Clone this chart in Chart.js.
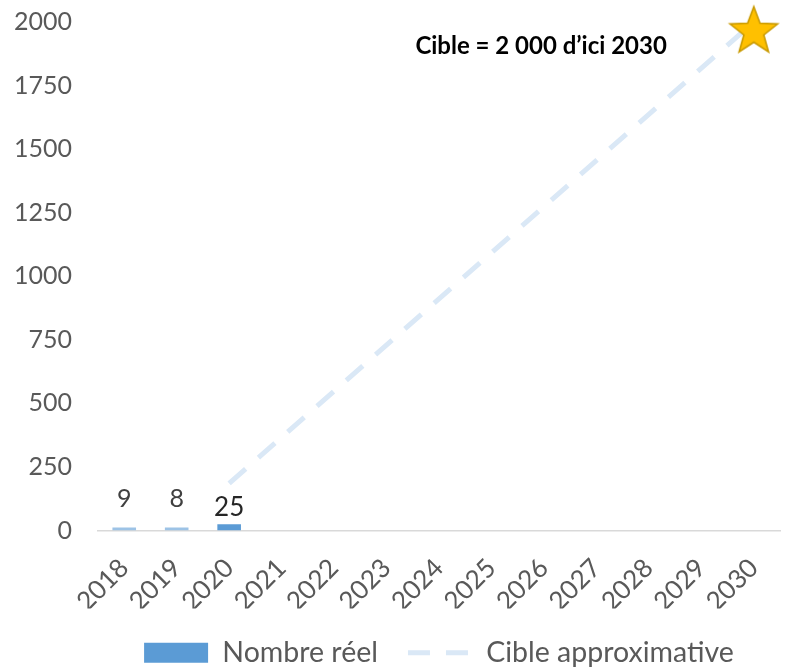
<!DOCTYPE html>
<html><head><meta charset="utf-8">
<script src="https://cdn.jsdelivr.net/npm/chart.js@4/dist/chart.umd.min.js"></script>
<style>html,body{margin:0;padding:0;background:#fff}#wrap{width:786px;height:667px}</style>
</head><body><div id="wrap"><canvas id="c" width="786" height="667"></canvas></div>
<script>
const years = ['2018','2019','2020','2021','2022','2023','2024','2025','2026','2027','2028','2029','2030'];
const actual = [9, 8, 25, null, null, null, null, null, null, null, null, null, null];
const target = [null, null, 185, null, null, null, null, null, null, null, null, null, 2000];
const star = [null, null, null, null, null, null, null, null, null, null, null, null, 1970];
const yTicks = [0, 250, 500, 750, 1000, 1250, 1500, 1750, 2000];
const annotation = 'Cible = 2 000 d\u2019ici 2030';

function makeStar(r){
  const c=document.createElement('canvas');const s=Math.ceil(r*2+4);c.width=s;c.height=s;
  const g=c.getContext('2d');const cx=s/2,cy=s/2+2;g.beginPath();
  for(let i=0;i<10;i++){const a=-Math.PI/2+i*Math.PI/5;const rr=i%2?r*0.42:r;g.lineTo(cx+rr*Math.cos(a),cy+rr*Math.sin(a));}
  g.closePath();g.fillStyle='#FFC000';g.fill();g.lineWidth=1.6;g.strokeStyle='#C99A00';g.stroke();return c;
}
const starImg = makeStar(25);
const FONT = 'Lato, "Open Sans", sans-serif';

const labelPlugin = {
  id:'labels',
  afterDatasetsDraw(chart){
    const ctx=chart.ctx;const meta=chart.getDatasetMeta(0);
    ctx.save();ctx.textAlign='center';ctx.textBaseline='middle';
    meta.data.forEach((el,i)=>{
      const v=actual[i]; if(v==null) return;
      const big = i===2;
      ctx.font=(big?'26px ':'25px ')+FONT;ctx.fillStyle=big?'#262626':'#404040';
      ctx.fillText(String(v), el.x, el.y - (big?17:29));
    });
    const xs=chart.scales.x, ys=chart.scales.y;
    ctx.font='bold 24px '+FONT;ctx.fillStyle='#000';ctx.textAlign='left';
    ctx.fillText(annotation, xs.getPixelForValue(5.55), ys.getPixelForValue(1905));
    ctx.restore();
  }
};

new Chart(document.getElementById('c'),{
  type:'bar',
  data:{labels:years,datasets:[
    {label:'Nombre réel',data:actual,backgroundColor:['#9DC3E6','#9DC3E6','#5B9BD5'],barPercentage:0.45,categoryPercentage:1,order:2,minBarLength:3},
    {type:'line',label:'Cible approximative',data:target,spanGaps:true,borderColor:'#DAE8F6',borderWidth:5,borderDash:[22,17],pointRadius:0,fill:false,order:1},
    {type:'line',label:'star',data:star,showLine:false,pointStyle:starImg,pointRadius:25,order:0,clip:false}
  ]},
  options:{
    responsive:false,animation:false,
    layout:{autoPadding:false,padding:{left:12,right:6,top:22,bottom:-10}},
    plugins:{
      tooltip:{enabled:false},
      legend:{position:'bottom',fullSize:false,labels:{
        usePointStyle:true,pointStyleWidth:64,boxHeight:20,padding:30,color:'#595959',font:{family:FONT,size:28.5},
        generateLabels(chart){
          return [
            {text:'Nombre réel',fillStyle:'#5B9BD5',strokeStyle:'#5B9BD5',lineWidth:0,pointStyle:'rect',datasetIndex:0,fontColor:'#595959'},
            {text:'Cible approximative',fillStyle:'#DAE8F6',strokeStyle:'#DAE8F6',lineWidth:5,lineDash:[22,16],pointStyle:'line',datasetIndex:1,fontColor:'#595959'}
          ];
        }
      }}
    },
    scales:{
      x:{offset:true,grid:{display:false,drawTicks:false},border:{color:'#D9D9D9',width:1.5},
        afterFit(s){s.paddingLeft=0;s.paddingRight=0;s.height=78;},
        ticks:{color:'#595959',font:{family:FONT,size:26},maxRotation:45,minRotation:45,padding:22,autoSkip:false}},
      y:{min:0,max:2000,afterBuildTicks(s){s.ticks=yTicks.map(v=>({value:v}));},
        afterFit(s){s.width=86;s.paddingTop=0;s.paddingBottom=0;},
        grid:{display:false,drawTicks:false},border:{display:false},
        ticks:{color:'#595959',font:{family:FONT,size:25},padding:26,callback:(v)=>String(v)}}
    }
  },
  plugins:[labelPlugin]
});
</script></body></html>
